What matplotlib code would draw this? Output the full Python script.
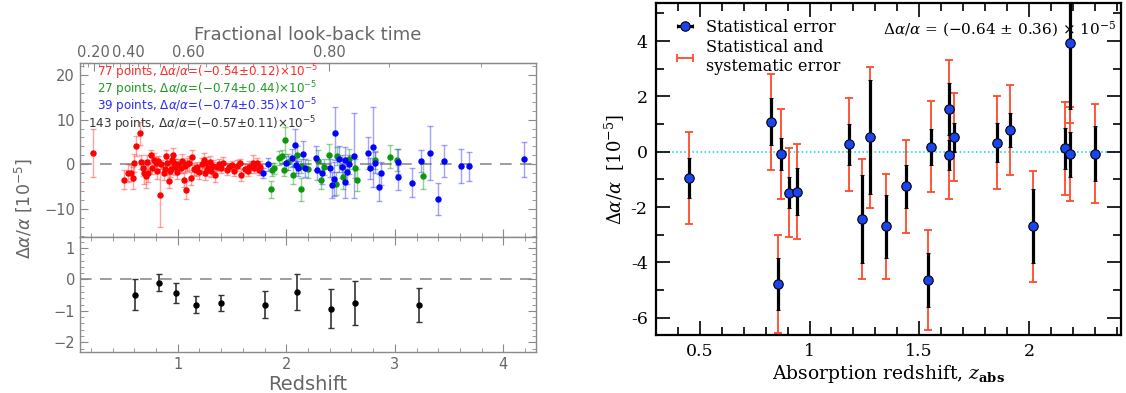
import numpy as np
import matplotlib
matplotlib.use('Agg')
from matplotlib import pyplot as plt
from matplotlib.ticker import MultipleLocator, FixedLocator, FuncFormatter

# ---------------- left figure: absorbers by sample ----------------
red_z = [0.22, 0.51, 0.54, 0.57, 0.59, 0.60, 0.62, 0.65, 0.66, 0.69, 0.71, 0.73,
         0.75, 0.78, 0.80, 0.84, 0.85, 0.87, 0.89, 0.90, 0.92, 0.94, 0.95, 0.97,
         0.98, 1.00, 1.06, 1.08, 1.09, 1.10, 1.12, 1.15, 1.18, 1.22, 1.25, 1.26,
         1.27, 1.30, 1.33, 1.34, 1.36, 1.40, 1.45, 1.47, 1.52, 1.57, 1.58, 1.70,
         1.73, 1.75, 1.76, 0.76, 0.82, 0.93, 1.03, 1.13, 1.20, 1.28, 1.42, 1.55,
         1.62, 1.66, 1.69, 0.68, 0.96, 1.04, 1.17, 0.88, 1.38, 1.50, 1.65, 0.72,
         1.07, 0.99, 1.24, 0.81, 1.31]
red_da = [2.5, -3.4, -2.0, -2.0, -3.1, 0.4, 4.1, 6.9, 0.6, -2.0, -2.7, -2.0,
          2.1, 1.0, 0.2, -6.9, 0.0, -2.0, 1.8, 0.3, -3.7, -1.0, 1.0, 0.3,
          -0.5, 0.0, -3.5, -5.7, 0.0, 0.3, -3.1, -1.0, -0.5, 0.0, -2.0, 0.3,
          -1.2, 0.6, -0.4, -2.4, -0.5, -0.9, -1.2, -0.6, -1.5, 0.2, -2.4, -0.9,
          0.2, -1.2, -0.5, -0.8, 0.8, -1.5, -0.8, 1.6, -1.8, -0.7, 0.4, -0.3,
          -1.0, -0.6, 0.4, -0.9, 2.0, 0.8, -1.3, -1.0, 0.1, -0.2, -1.5, 0.5,
          -0.3, -1.7, 0.9, -1.4, -1.5]
red_err = [5.3, 2.2, 2.0, 1.8, 2.5, 2.0, 2.2, 2.6, 1.6, 2.4, 2.6, 2.0,
           1.2, 1.5, 1.4, 7.0, 1.0, 1.5, 1.5, 1.2, 1.6, 1.2, 1.4, 1.0,
           1.8, 1.2, 1.6, 2.0, 1.4, 1.6, 1.4, 1.3, 1.1, 1.5, 1.5, 1.3,
           1.5, 1.2, 1.4, 1.6, 1.0, 1.1, 1.2, 0.9, 1.0, 1.1, 1.3, 1.0,
           1.2, 1.1, 1.3, 1.3, 1.1, 1.4, 1.2, 1.7, 1.4, 1.1, 1.3, 1.2,
           1.0, 1.4, 1.6, 1.8, 1.7, 1.5, 1.2, 1.3, 1.2, 1.0, 1.2, 1.6,
           1.3, 1.5, 1.6, 1.9, 1.4]

green_z = [1.855, 1.87, 1.89, 1.93, 1.96, 1.99, 1.98, 2.06, 2.14, 2.14, 2.10,
           2.32, 2.39, 2.47, 2.46, 2.63, 2.65, 2.82, 2.96, 3.02, 3.26,
           2.02, 2.20, 2.29, 2.52, 2.35, 2.58]
green_da = [-5.6, -1.2, -0.9, 1.4, 1.8, 5.4, -1.2, -2.4, -5.6, -0.3, 2.0,
            -3.5, 2.1, 1.9, -4.3, -0.9, -3.5, 0.9, 1.7, 1.0, -2.6,
            0.5, -1.0, 0.7, -2.9, -0.5, 1.2]
green_err = [1.8, 1.5, 1.2, 1.6, 1.5, 3.0, 1.4, 2.0, 2.6, 1.6, 2.2,
             2.0, 2.4, 2.0, 2.5, 2.2, 2.4, 2.0, 2.6, 2.4, 2.8,
             1.8, 2.0, 2.4, 2.6, 1.8, 2.2]

blue_z = [1.79, 1.83, 2.05, 2.08, 2.09, 2.11, 2.15, 2.17, 2.27, 2.28, 2.40,
          2.42, 2.45, 2.44, 2.49, 2.51, 2.545, 2.545, 2.56, 2.62, 2.75, 2.77,
          2.80, 2.82, 2.85, 2.87, 3.03, 3.03, 3.16, 3.24, 3.32, 3.40, 3.45,
          3.61, 3.68, 4.19, 2.00, 2.33, 2.58]
blue_da = [-1.9, 0.0, 1.4, 4.3, -0.2, -0.9, 2.4, -0.9, 1.4, -1.2, -0.9,
           -4.6, 6.9, -3.2, 1.2, -0.5, 1.0, -3.9, -1.8, 1.9, 2.5, -0.9,
           3.9, 0.4, -5.1, -2.0, 0.6, -2.9, -4.1, 0.7, 2.6, -7.8, 0.8,
           -0.3, -0.4, 1.1, 0.3, -2.0, 0.0]
blue_err = [1.2, 1.4, 2.0, 3.5, 1.8, 1.6, 2.8, 2.0, 2.6, 2.2, 2.0,
            3.0, 6.0, 3.8, 3.0, 2.5, 2.8, 3.5, 2.6, 9.5, 3.5, 2.4,
            9.0, 2.4, 3.0, 2.6, 2.8, 2.8, 3.2, 2.5, 6.0, 3.6, 3.6,
            3.8, 3.2, 4.0, 1.5, 2.4, 2.2]

bin_z = [0.61, 0.83, 0.985, 1.17, 1.40, 1.80, 2.10, 2.41, 2.63, 3.22]
bin_da = [-0.48, -0.10, -0.43, -0.80, -0.74, -0.80, -0.40, -0.93, -0.74, -0.81]
bin_err = [0.48, 0.27, 0.31, 0.28, 0.25, 0.44, 0.56, 0.63, 0.70, 0.54]

sample_text = [
    ('77 points, ', '-0.54', '0.12', '#ff2a2a'),
    ('27 points, ', '-0.74', '0.44', '#1f9a1f'),
    ('39 points, ', '-0.74', '0.35', '#2a2aff'),
    ('143 points, ', '-0.57', '0.11', '#333333'),
]

# ---------------- right figure ----------------
z_abs = [0.451, 0.822, 0.872, 0.857, 0.907, 0.941, 1.182, 1.241, 1.274, 1.347,
         1.438, 1.542, 1.554, 1.636, 1.634, 1.657, 1.856, 1.916, 2.020, 2.166,
         2.186, 2.186, 2.301]
dalpha = [-0.95, 1.08, -0.08, -4.78, -1.48, -1.44, 0.27, -2.43, 0.53, -2.70,
          -1.25, -4.64, 0.18, 1.55, -0.12, 0.52, 0.33, 0.79, -2.70, 0.12,
          -0.10, 3.93, -0.07]
err_stat = [0.74, 0.85, 0.57, 0.94, 0.55, 0.86, 0.75, 1.59, 2.06, 1.15,
            0.78, 0.98, 0.65, 0.94, 0.54, 0.52, 0.72, 0.62, 1.34, 0.75,
            0.80, 2.39, 1.00]
err_tot = [1.68, 1.73, 1.63, 1.78, 1.60, 1.73, 1.69, 2.18, 2.55, 1.89,
           1.69, 1.80, 1.65, 1.77, 1.58, 1.59, 1.67, 1.62, 2.00, 1.67,
           1.70, 2.90, 1.80]

# look-back time fraction, flat LCDM (Om=0.3)
A = np.sqrt(0.7 / 0.3)


def z_to_f(z):
    z = np.asarray(z, float)
    with np.errstate(all='ignore'):
        return 1 - np.arcsinh(A * (1 + z) ** -1.5) / np.arcsinh(A)


def f_to_z(f):
    f = np.asarray(f, float)
    with np.errstate(all='ignore'):
        return (np.sinh((1 - f) * np.arcsinh(A)) / A) ** (-2.0 / 3.0) - 1


def minus_fmt(sign):
    return FuncFormatter(lambda v, p: ('%g' % v).replace('-', sign))


fig = plt.figure(figsize=(11.26, 3.93), dpi=100)

gray = '#666666'
frame = '#8a8a8a'

ax1 = fig.add_axes([0.0710, 0.3969, 0.4050, 0.4427])
ax2 = fig.add_axes([0.0710, 0.1043, 0.4050, 0.2926], sharex=ax1)

for ax in (ax1, ax2):
    ax.axhline(0, color='#8c8c8c', ls=(0, (7, 5)), lw=1.2, zorder=1)
    for s in ax.spines.values():
        s.set_color(frame)
        s.set_linewidth(1.0)
    ax.tick_params(which='both', direction='in', right=True, colors=frame,
                   labelcolor=gray, labelsize=10.5)
    ax.tick_params(which='major', length=6)
    ax.tick_params(which='minor', length=3)
    ax.yaxis.set_major_formatter(minus_fmt('\u2212'))

ekw = dict(fmt='o', ms=3.6, elinewidth=1.0, capsize=2, capthick=1.0, zorder=3)
ax1.errorbar(red_z, red_da, yerr=red_err, color='#ff0000',
             ecolor=(1, 0.2, 0.2, 0.45), **ekw)
ax1.errorbar(green_z, green_da, yerr=green_err, color='#0c980c',
             ecolor=(0.1, 0.6, 0.1, 0.45), **ekw)
ax1.errorbar(blue_z, blue_da, yerr=blue_err, color='#0000ff',
             ecolor=(0.2, 0.2, 1, 0.45), **ekw)
ax2.errorbar(bin_z, bin_da, yerr=bin_err, fmt='o', ms=3.6, color='black',
             ecolor='#333333', elinewidth=1.2, capsize=2, capthick=1.0, zorder=3)

ax1.set_xlim(0.1, 4.3)
ax1.set_ylim(-16.2, 22.6)
ax2.set_ylim(-2.31, 1.35)
ax1.xaxis.set_major_locator(MultipleLocator(1))
ax1.xaxis.set_minor_locator(MultipleLocator(0.2))
ax1.yaxis.set_major_locator(MultipleLocator(10))
ax1.yaxis.set_minor_locator(MultipleLocator(2))
ax2.yaxis.set_major_locator(MultipleLocator(1))
ax2.yaxis.set_minor_locator(MultipleLocator(0.2))
ax1.tick_params(labelbottom=False, top=False)
ax2.tick_params(which='both', top=True)
ax2.xaxis.set_major_formatter(minus_fmt('\u2212'))

sec = ax1.secondary_xaxis('top', functions=(z_to_f, f_to_z))
sec.set_xticks([0.2, 0.4, 0.6, 0.8], labels=['0.20', '0.40', '0.60', '0.80'])
sec.xaxis.set_minor_locator(FixedLocator(np.arange(0.04, 0.97, 0.04)))
sec.tick_params(which='both', direction='in', colors=frame, labelcolor=gray,
                labelsize=10.5, pad=2)
sec.tick_params(which='major', length=6)
sec.tick_params(which='minor', length=3)
sec.spines['top'].set_color(frame)

ys = [0.950, 0.850, 0.750, 0.650]
xs = [0.037, 0.037, 0.037, 0.018]
for (lead, v, e, c), x, y in zip(sample_text, xs, ys):
    s = lead + r'$\Delta\alpha/\alpha$=(' + v.replace('-', '\u2212') + r'$\pm$' + e + \
        r')$\times$10$^{-5}$'
    ax1.text(x, y, s, transform=ax1.transAxes, color=c, fontsize=8.6,
             va='center', ha='left', zorder=5)

fig.text(0.2735, 0.911, 'Fractional look-back time', fontsize=13, color=gray,
         ha='center', va='center')
fig.text(0.2735, 0.022, 'Redshift', fontsize=14, color=gray,
         ha='center', va='center')
fig.text(0.021, 0.47, r'$\Delta\alpha/\alpha$ [10$^{-5}$]', rotation=90,
         fontsize=12.5, color=gray, ha='center', va='center')

# ---------------- right panel ----------------
serif = 'DejaVu Serif'
ax3 = fig.add_axes([0.5826, 0.1476, 0.4130, 0.8455])
ax3.axhline(0, color='#00d8e8', ls=':', lw=1.1, zorder=1)
ax3.errorbar(z_abs, dalpha, yerr=err_tot, fmt='none', ecolor='#ff4a2a',
             elinewidth=1.3, capsize=2.8, capthick=1.3, zorder=2)
ax3.errorbar(z_abs, dalpha, yerr=err_stat, fmt='o', ms=6.8, mfc='#1a44f0',
             mec='black', mew=0.8, ecolor='black', elinewidth=2.3,
             capsize=1.5, capthick=2.0, zorder=3)

# legend proxies (no visible data)
h1 = ax3.errorbar([np.nan], [np.nan], xerr=[1], fmt='o', ms=6.8, mfc='#1a44f0',
                  mec='black', mew=0.8, ecolor='black', elinewidth=2.3,
                  capsize=1.5, capthick=2.0)
h2 = ax3.errorbar([np.nan], [np.nan], xerr=[1], fmt='none', ecolor='#ff4a2a',
                  elinewidth=1.3, capsize=2.8, capthick=1.3)
ax3.legend([h1, h2], ['Statistical error', 'Statistical and\nsystematic error'],
           loc='upper left', frameon=False, prop={'family': serif, 'size': 11.5},
           handlelength=1.6, handletextpad=0.5, labelspacing=0.2,
           borderaxespad=0.6, borderpad=0.4)

ax3.text(0.488, 0.919,
         r'$\Delta\alpha/\alpha$ = ($-$0.64 $\pm$ 0.36) $\times$ 10$^{-5}$',
         transform=ax3.transAxes, family=serif, math_fontfamily='dejavuserif',
         fontsize=11, ha='left', va='center')

ax3.set_xlim(0.30, 2.42)
ax3.set_ylim(-6.63, 5.39)
ax3.xaxis.set_major_locator(MultipleLocator(0.5))
ax3.xaxis.set_minor_locator(MultipleLocator(0.1))
ax3.yaxis.set_major_locator(MultipleLocator(2))
ax3.yaxis.set_minor_locator(MultipleLocator(1))
ax3.xaxis.set_major_formatter(minus_fmt('-'))
ax3.yaxis.set_major_formatter(minus_fmt('-'))
ax3.tick_params(which='both', direction='in', top=True, right=True, width=1.2,
                labelsize=12.5, labelfontfamily=serif, pad=6)
ax3.tick_params(which='major', length=10)
ax3.tick_params(which='minor', length=5.5)
for s in ax3.spines.values():
    s.set_linewidth(1.6)
ax3.set_xlabel(r'Absorption redshift, $z_{\mathbf{abs}}$', family=serif,
               math_fontfamily='dejavuserif', fontsize=13.5, labelpad=2)
ax3.set_ylabel(r'$\Delta\alpha/\alpha$  [10$^{-5}$]', family=serif,
               math_fontfamily='dejavuserif', fontsize=13, labelpad=3)

fig.savefig('out.png', dpi=100)
